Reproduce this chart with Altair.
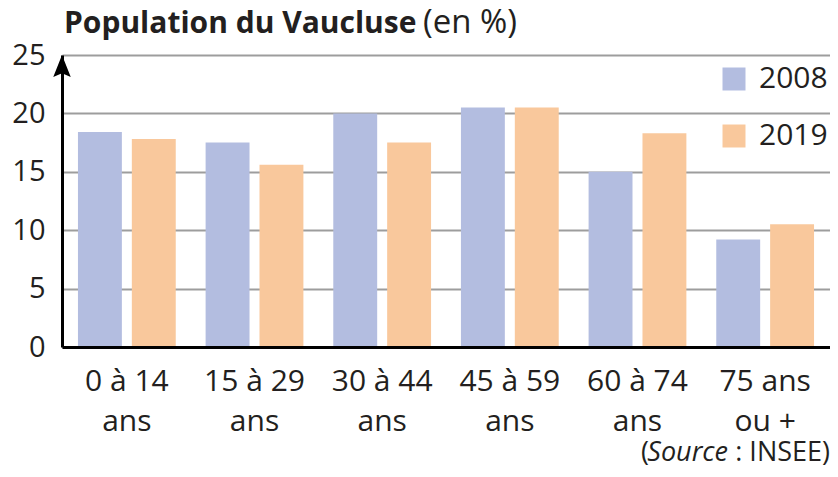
import altair as alt
import pandas as pd

groupes = ["0 à 14\nans", "15 à 29\nans", "30 à 44\nans", "45 à 59\nans", "60 à 74\nans", "75 ans\nou +"]
annees = ["2008", "2019"]
valeurs_2008 = [18.4, 17.5, 20.0, 20.5, 15.0, 9.2]
valeurs_2019 = [17.8, 15.6, 17.5, 20.5, 18.3, 10.5]
y_ticks = [0, 5, 10, 15, 20, 25]
couleurs = ["#b3bde0", "#f9c89c"]

rows = []
for g, a, b in zip(groupes, valeurs_2008, valeurs_2019):
    rows.append({"groupe": g, "annee": "2008", "valeur": a})
    rows.append({"groupe": g, "annee": "2019", "valeur": b})
df = pd.DataFrame(rows)

FONT = "Open Sans"
INK = "#231f20"
W = 768
H = 292

bars = alt.Chart(df).mark_bar().encode(
    x=alt.X("groupe:N", sort=groupes,
            scale=alt.Scale(paddingInner=0.234, paddingOuter=0.125),
            axis=alt.Axis(title=None, labelAngle=0, labelExpr="split(datum.label, '\\n')",
                          labelFont=FONT, labelFontSize=30, labelColor=INK,
                          labelLineHeight=40, ticks=False, tickSize=0, labelPadding=19,
                          domainColor="black", domainWidth=3, grid=False, zindex=1)),
    xOffset=alt.XOffset("annee:N", sort=annees, scale=alt.Scale(paddingInner=0.185)),
    y=alt.Y("valeur:Q", scale=alt.Scale(domain=[0, 25], nice=False),
            axis=alt.Axis(title=None, values=y_ticks, grid=True, gridColor="#9d9d9d",
                          gridWidth=2, domainColor="black", domainWidth=3, ticks=False,
                          tickSize=0, labelPadding=17, labelFont=FONT, labelFontSize=29,
                          labelColor=INK, zindex=0)),
    color=alt.Color("annee:N", sort=annees,
                    scale=alt.Scale(domain=annees, range=couleurs),
                    legend=alt.Legend(title=None, orient="none", legendX=657, legendY=9,
                                      symbolType="square", symbolSize=529, symbolStrokeWidth=0,
                                      symbolOpacity=1, labelFont=FONT, labelFontSize=30,
                                      labelColor=INK, labelOffset=10, rowPadding=27,
                                      padding=0)),
)

arrow = alt.Chart(pd.DataFrame({"v": [25]})).mark_point(
    shape="M0,0L0.7,1.75L0,1.45L-0.7,1.75Z", filled=True, opacity=1,
    color="black", size=625, strokeWidth=0
).encode(y="v:Q", x=alt.value(0))

def txt(text, x, y, align="left", weight="normal", style="normal", size=30):
    return alt.Chart(pd.DataFrame({"t": [text]})).mark_text(
        align=align, baseline="alphabetic", font=FONT, fontSize=size,
        fontWeight=weight, fontStyle=style, color=INK
    ).encode(text="t:N", x=alt.value(x), y=alt.value(y))

titre = txt("Population du Vaucluse", 2, -22, weight="bold", size=30)
titre2 = txt("(en %)", 361, -22, size=33)
src_y = 406
src1 = txt("(", 587, src_y, align="right", size=27)
src2 = txt("Source", 666, src_y, align="right", style="italic", size=27)
src3 = txt("\u00a0: INSEE)", W, src_y, align="right", size=27)

chart = alt.layer(bars, arrow, titre, titre2, src1, src2, src3).properties(
    width=W, height=H,
    padding={"left": 54, "top": 47, "right": 0, "bottom": 120},
    autosize=alt.AutoSizeParams(type="none"),
).configure_view(stroke=None)

chart.save("out.html", embed_options={"renderer": "svg", "actions": False})
